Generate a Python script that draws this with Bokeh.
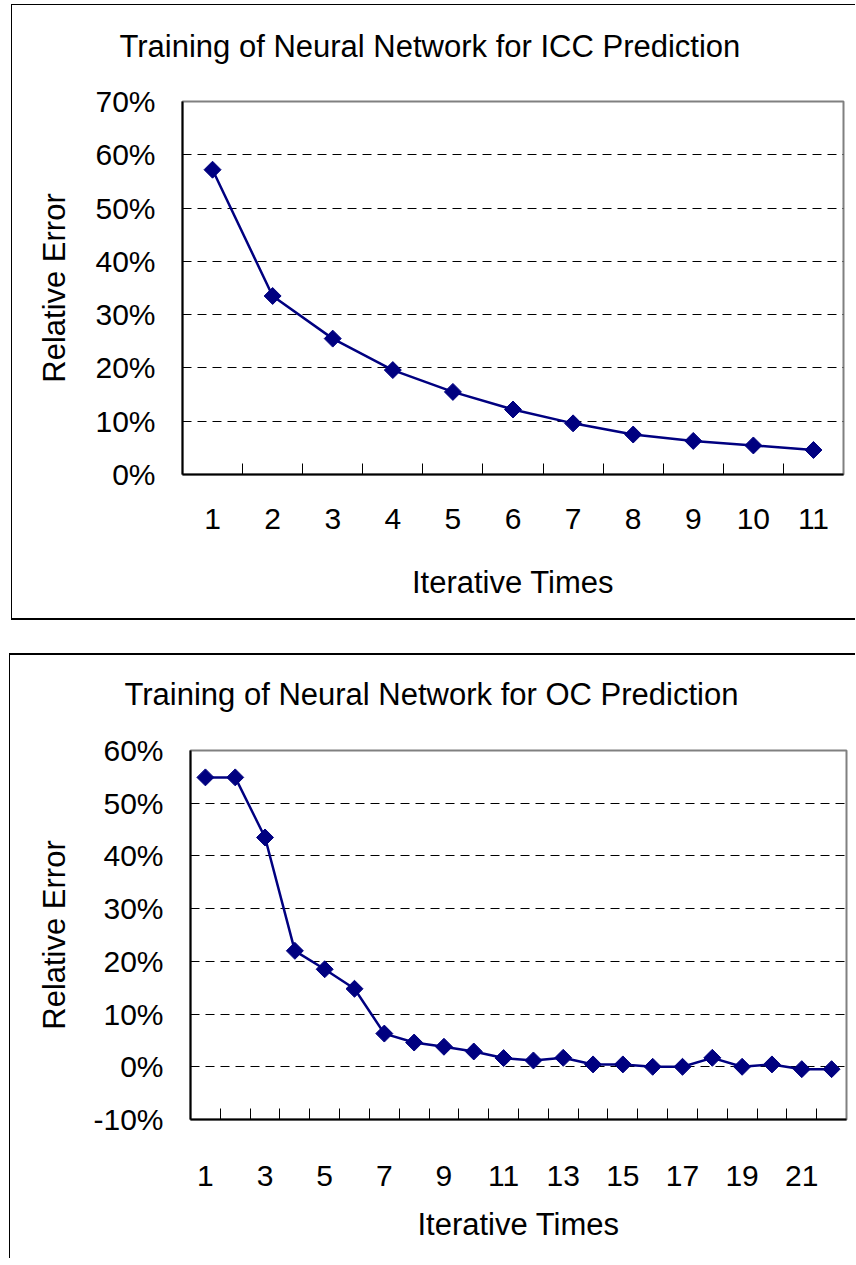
from bokeh.plotting import figure
from bokeh.models import FixedTicker, NumeralTickFormatter, Range1d, ColumnDataSource, Title
from bokeh.embed import file_html
from bokeh.resources import INLINE

# ---------------- data ----------------
icc_iter = list(range(1, 12))
icc_err = [0.572, 0.335, 0.255, 0.196, 0.155, 0.122, 0.096, 0.075, 0.063, 0.0545, 0.046]
icc_y_ticks = [0.0, 0.1, 0.2, 0.3, 0.4, 0.5, 0.6, 0.7]
icc_x_labels = list(range(1, 12))

oc_iter = list(range(1, 23))
oc_err = [0.549, 0.549, 0.435, 0.220, 0.185, 0.148, 0.063, 0.046, 0.038, 0.029,
          0.0165, 0.012, 0.017, 0.0045, 0.0045, 0.0, 0.0, 0.017, 0.0, 0.0045,
          -0.0045, -0.0045]
oc_y_ticks = [-0.1, 0.0, 0.1, 0.2, 0.3, 0.4, 0.5, 0.6]
oc_x_labels = list(range(1, 23, 2))

FONT = "Liberation Sans"
NAVY = "#000080"


def make_chart(title, xs, ys, y_ticks, x_labels, width, height, mb, title_offset,
               gap, xl_standoff, xal_standoff, yal_standoff, styles, margin):
    src = ColumnDataSource(dict(x=xs, y=ys))
    n = len(xs)
    p = figure(width=width, height=height, output_backend="svg", toolbar_location=None,
               x_range=Range1d(0.5, n + 0.5), y_range=Range1d(y_ticks[0], y_ticks[-1]),
               min_border_left=mb[0], min_border_top=mb[1], min_border_right=mb[2],
               min_border_bottom=mb[3], margin=margin)
    p.styles = styles
    p.background_fill_color = "white"
    p.border_fill_color = "white"
    p.outline_line_color = "#808080"
    p.outline_line_width = 2

    # spacer between the frame and the title (stacked nearest the frame)
    spacer = Title(text=" ", standoff=gap, text_font=FONT, text_font_size="1px",
                   text_color="white")
    p.add_layout(spacer, "above")
    t = Title(text=title, align="left", offset=title_offset, standoff=0,
              text_font=FONT, text_font_size="31px", text_font_style="normal",
              text_color="black")
    p.add_layout(t, "above")

    # x axis: labels at category centres, tick marks (inside) at category boundaries
    p.xaxis.ticker = FixedTicker(ticks=x_labels,
                                 minor_ticks=[i + 0.5 for i in range(1, n)])
    p.xaxis.major_tick_in = 0
    p.xaxis.major_tick_out = 0
    p.xaxis.minor_tick_in = 11
    p.xaxis.minor_tick_out = 0
    p.xaxis.minor_tick_line_color = "#000000"
    p.xaxis.minor_tick_line_width = 1
    p.xaxis.axis_line_color = "#000000"
    p.xaxis.axis_line_width = 2
    p.xaxis.major_label_text_font = FONT
    p.xaxis.major_label_text_font_size = "30px"
    p.xaxis.major_label_text_color = "black"
    p.xaxis.major_label_standoff = xl_standoff
    p.xaxis.axis_label = "Iterative Times"
    p.xaxis.axis_label_text_font = FONT
    p.xaxis.axis_label_text_font_size = "31px"
    p.xaxis.axis_label_text_font_style = "normal"
    p.xaxis.axis_label_text_color = "black"
    p.xaxis.axis_label_standoff = xal_standoff

    p.yaxis.ticker = FixedTicker(ticks=y_ticks)
    p.yaxis.formatter = NumeralTickFormatter(format="0%")
    p.yaxis.major_tick_in = 0
    p.yaxis.major_tick_out = 0
    p.yaxis.minor_tick_in = 0
    p.yaxis.minor_tick_out = 0
    p.yaxis.axis_line_color = "#000000"
    p.yaxis.axis_line_width = 2
    p.yaxis.major_label_text_font = FONT
    p.yaxis.major_label_text_font_size = "30px"
    p.yaxis.major_label_text_color = "black"
    p.yaxis.major_label_standoff = 27
    p.yaxis.axis_label = "Relative Error"
    p.yaxis.axis_label_text_font = FONT
    p.yaxis.axis_label_text_font_size = "31px"
    p.yaxis.axis_label_text_font_style = "normal"
    p.yaxis.axis_label_text_color = "black"
    p.yaxis.axis_label_standoff = yal_standoff

    p.xgrid.visible = False
    p.ygrid.ticker = FixedTicker(ticks=y_ticks[1:-1])
    p.ygrid.grid_line_color = "#000000"
    p.ygrid.grid_line_width = 1
    p.ygrid.grid_line_dash = "9 6"

    p.line("x", "y", source=src, line_color=NAVY, line_width=2.5)
    p.scatter("x", "y", source=src, marker="square", angle=0.785398, size=12,
              fill_color=NAVY, line_color=NAVY)
    return p


p1 = make_chart("Training of Neural Network for ICC Prediction", icc_iter, icc_err,
                icc_y_ticks, icc_x_labels, width=844, height=616,
                mb=(170, 96, 13, 147), title_offset=-63, gap=35,
                xl_standoff=34, xal_standoff=33, yal_standoff=20,
                styles={"border-left": "1px solid #000", "border-top": "1px solid #000",
                        "border-bottom": "2px solid #000"},
                margin=(4, 0, 0, 11))

p2 = make_chart("Training of Neural Network for OC Prediction", oc_iter, oc_err,
                oc_y_ticks, oc_x_labels, width=846, height=605,
                mb=(180, 95, 10, 141), title_offset=-66, gap=36,
                xl_standoff=46, xal_standoff=18, yal_standoff=18,
                styles={"border-left": "1px solid #000", "border-top": "2px solid #000"},
                margin=(33, 0, 0, 9))

open("out.html", "w").write(file_html([p1, p2], INLINE))
